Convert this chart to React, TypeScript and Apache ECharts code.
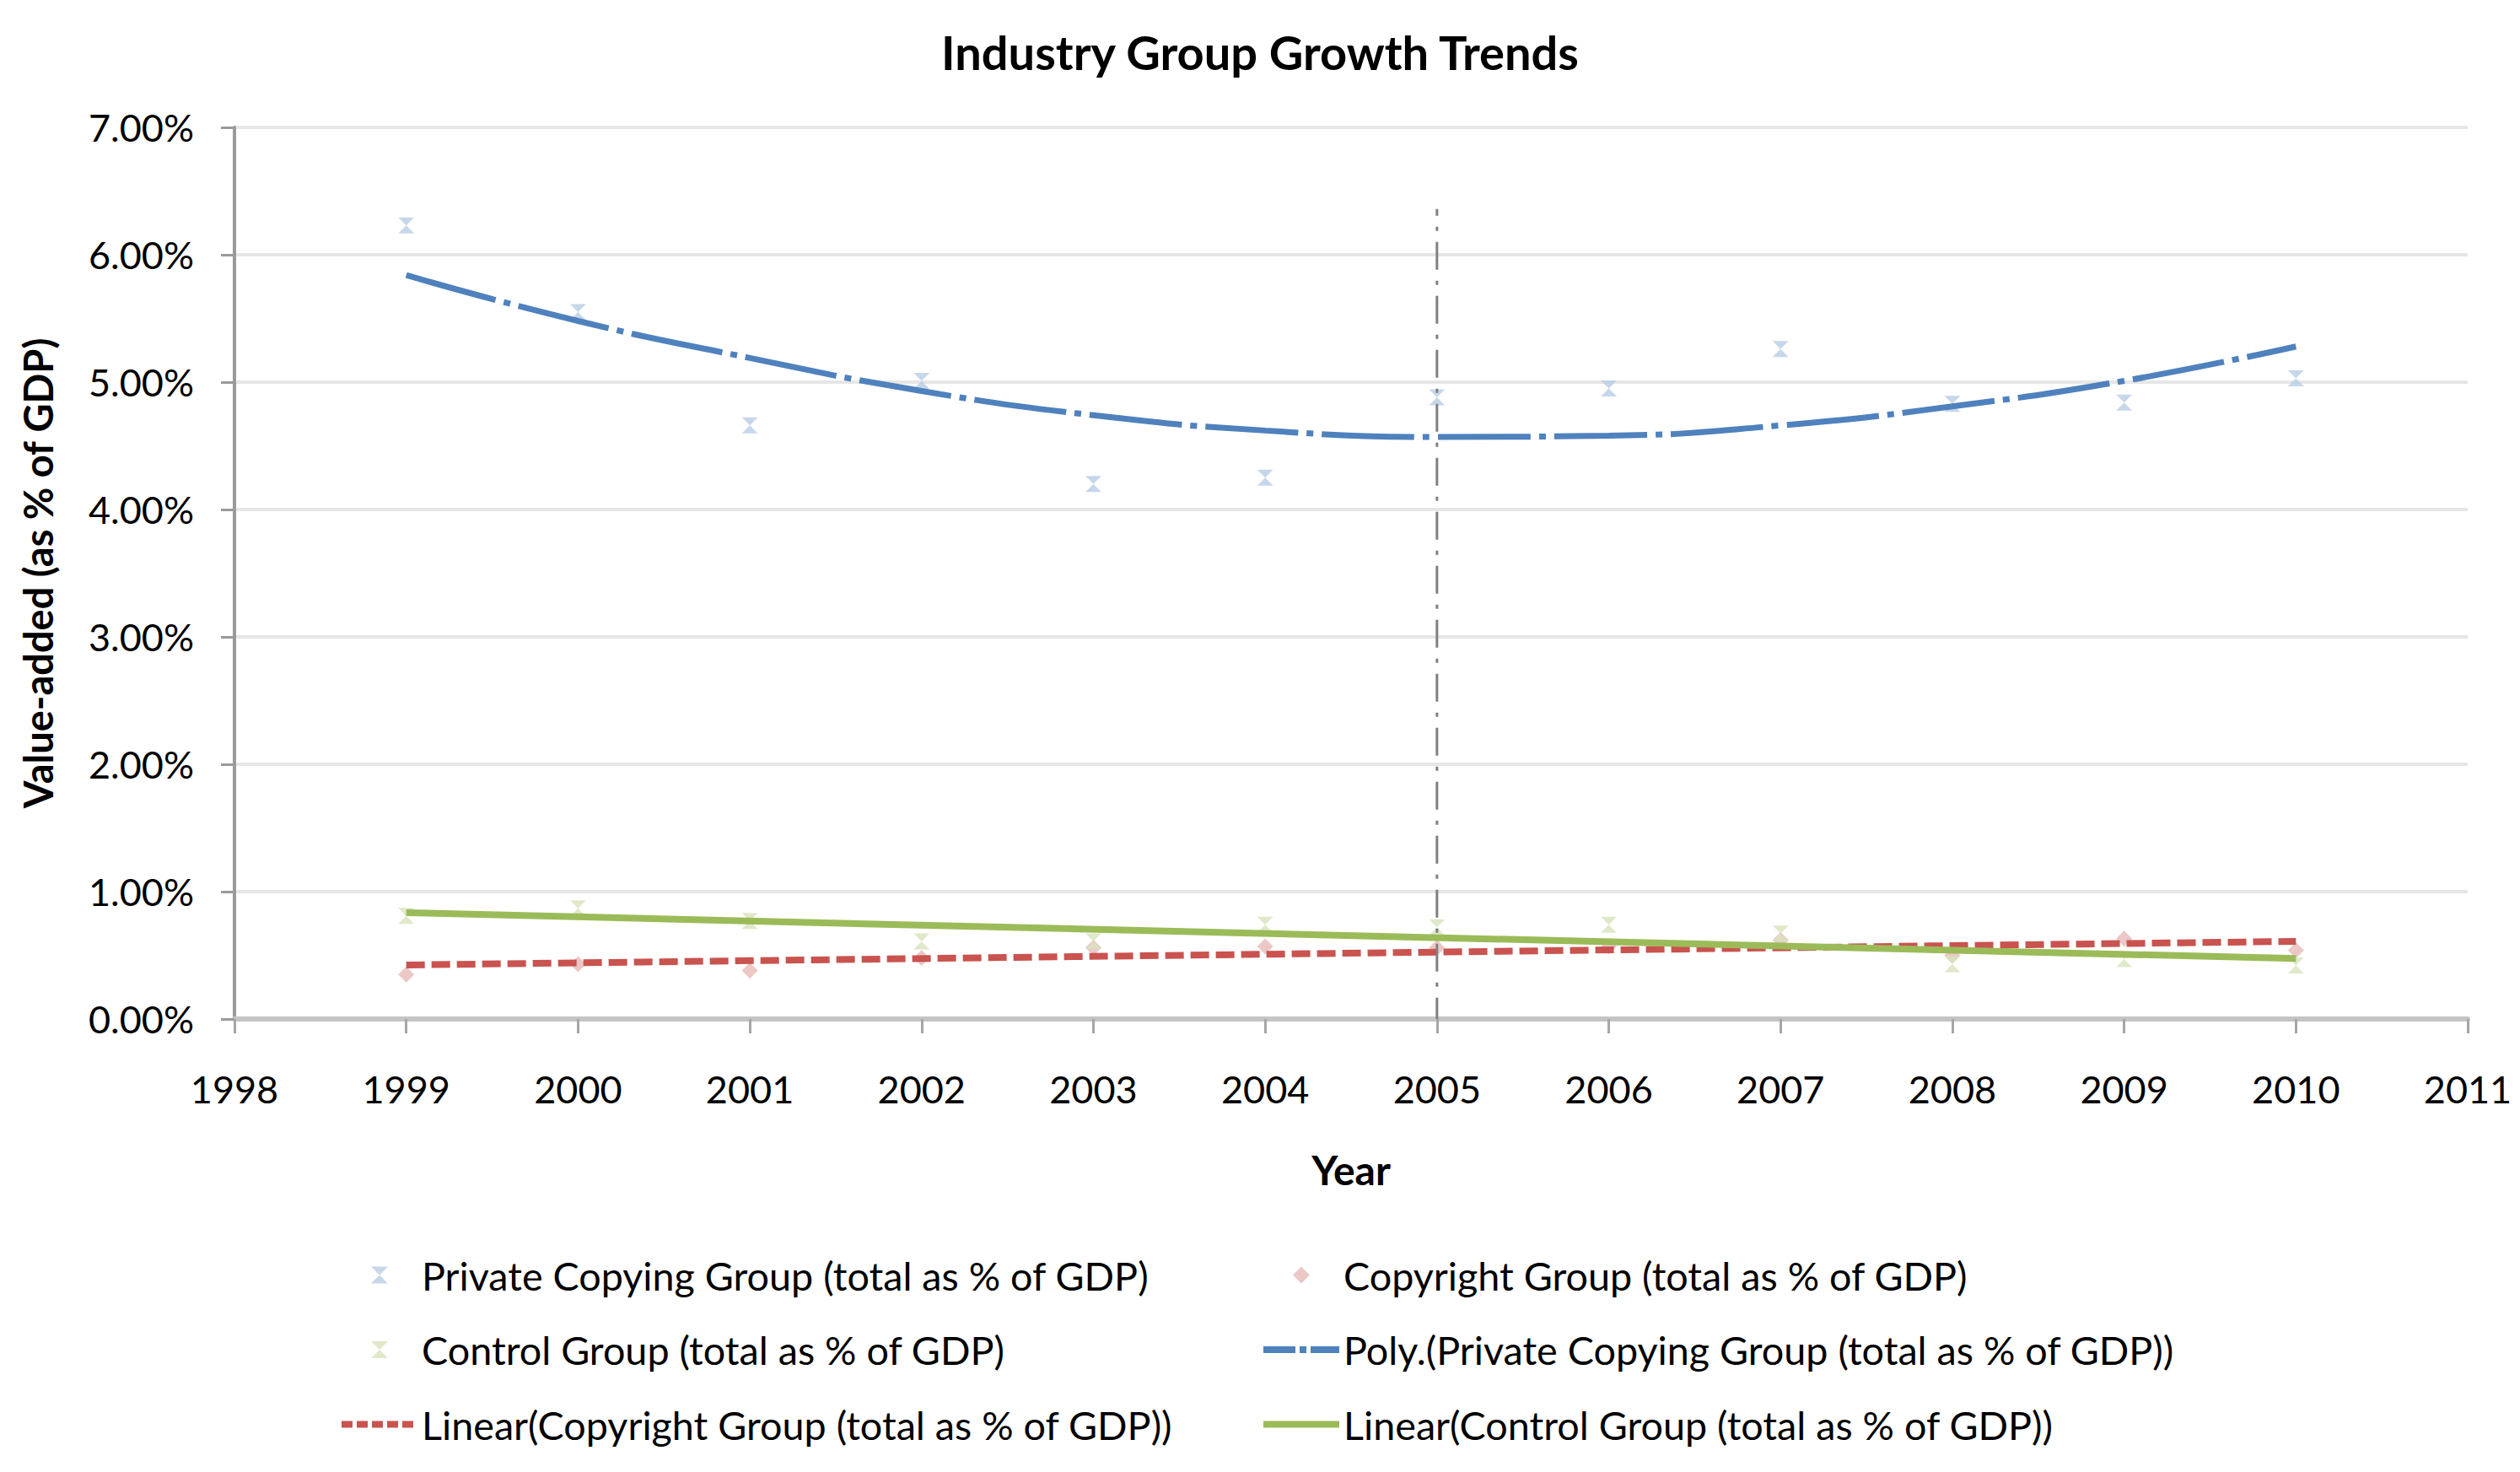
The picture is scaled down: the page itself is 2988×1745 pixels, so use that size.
import React, { useEffect, useRef } from "react";
import * as echarts from "echarts";

// ---- data (values in % of GDP) ----
const years = [1999, 2000, 2001, 2002, 2003, 2004, 2005, 2006, 2007, 2008, 2009, 2010];
const privateCopying = [6.23, 5.55, 4.66, 5.01, 4.2, 4.25, 4.88, 4.95, 5.26, 4.83, 4.84, 5.03];
const copyright = [0.35, 0.43, 0.38, 0.48, 0.56, 0.57, 0.56, 0.57, 0.62, 0.5, 0.63, 0.54];
const control = [0.81, 0.87, 0.77, 0.61, 0.61, 0.74, 0.72, 0.74, 0.67, 0.43, 0.47, 0.42];
// poly (order 2) trend of private copying, read at each year
const polyTrend = [5.84, 5.48, 5.19, 4.93, 4.74, 4.62, 4.57, 4.58, 4.66, 4.81, 5.01, 5.28];
// linear trends: endpoints
const trendYears = [1999, 2010];
const copyrightLinear = [0.424, 0.61];
const controlLinear = [0.835, 0.475];
// vertical marker line at 2005
const markerYears = [2005, 2005];
const markerValues = [6.36, 0];

const yTicks = [0, 1, 2, 3, 4, 5, 6, 7];

const N_PRIV = "Private Copying Group (total as % of GDP)";
const N_COPY = "Copyright Group (total as % of GDP)";
const N_CTRL = "Control Group (total as % of GDP)";
const N_POLY = "Poly.(Private Copying Group (total as % of GDP))";
const N_LCOPY = "Linear(Copyright Group (total as % of GDP))";
const N_LCTRL = "Linear(Control Group (total as % of GDP))";

const FONT = "Lato";
const HOURGLASS = "path://M0,0L10,0L5,5L10,10L0,10L5,5Z";
const DIAMOND = "path://M5,0L10,5L5,10L0,5Z";
const HIDDEN_SYMBOL = { color: "rgba(0,0,0,0)", borderWidth: 0, opacity: 0 };

const pair = (xs: number[], ys: number[]) => xs.map((x, i) => [x, ys[i]]);

export default function App() {
  const ref = useRef<HTMLDivElement>(null);
  useEffect(() => {
    const chart = echarts.init(ref.current!, null, { renderer: "svg" });
    const legendBase = {
      orient: "vertical",
      top: 1488,
      padding: 0,
      itemWidth: 90,
      itemHeight: 20,
      itemGap: 41.5,
      selectedMode: false,
      symbolKeepAspect: true,
      textStyle: { fontSize: 46.7, fontFamily: FONT, color: "#000" },
    };
    chart.setOption({
      animation: false,
      backgroundColor: "#ffffff",
      title: {
        text: "Industry Group Growth Trends",
        left: "center",
        top: 33,
        padding: 0,
        textStyle: { fontSize: 56, fontWeight: "bold", fontFamily: FONT, color: "#000" },
      },
      grid: { left: 278, right: 62, top: 151, bottom: 537, containLabel: false },
      legend: [
        {
          ...legendBase,
          left: 401,
          data: [
            { name: N_PRIV },
            { name: N_CTRL },
            { name: N_LCOPY, lineStyle: { width: 8, type: [13, 5] }, itemStyle: HIDDEN_SYMBOL },
          ],
        },
        {
          ...legendBase,
          left: 1494,
          data: [
            { name: N_COPY },
            { name: N_POLY, lineStyle: { width: 8, type: [38, 5, 8, 5] }, itemStyle: HIDDEN_SYMBOL },
            { name: N_LCTRL, lineStyle: { width: 8 }, itemStyle: HIDDEN_SYMBOL },
          ],
        },
      ],
      xAxis: {
        type: "value",
        min: 1998,
        max: 2011,
        interval: 1,
        name: "Year",
        nameLocation: "middle",
        nameGap: 154,
        nameTextStyle: { fontSize: 48, fontWeight: "bold", fontFamily: FONT, color: "#000" },
        splitLine: { show: false },
        axisLine: { show: true, lineStyle: { color: "#c4c4c4", width: 6 } },
        axisTick: { show: true, length: 17, lineStyle: { color: "#a6a6a6", width: 3 } },
        axisLabel: {
          fontSize: 45,
          fontFamily: FONT,
          color: "#000",
          margin: 60,
          formatter: (v: number) => String(v),
        },
      },
      yAxis: {
        type: "value",
        min: yTicks[0],
        max: yTicks[yTicks.length - 1],
        interval: 1,
        name: "Value-added (as % of GDP)",
        nameLocation: "middle",
        nameGap: 210,
        nameTextStyle: { fontSize: 47, fontWeight: "bold", fontFamily: FONT, color: "#000" },
        axisLine: { show: true, lineStyle: { color: "#9a9a9a", width: 4 } },
        axisTick: { show: true, length: 16, lineStyle: { color: "#9a9a9a", width: 3 } },
        splitLine: { show: true, lineStyle: { color: "#e6e6e6", width: 4 } },
        axisLabel: {
          fontSize: 45,
          fontFamily: FONT,
          color: "#000",
          margin: 48,
          formatter: (v: number) => v.toFixed(2) + "%",
        },
      },
      series: [
        {
          name: N_PRIV,
          type: "scatter",
          symbol: HOURGLASS,
          symbolSize: 19,
          itemStyle: { color: "#b9cde5" },
          data: pair(years, privateCopying),
          z: 2,
        },
        {
          name: N_COPY,
          type: "scatter",
          symbol: DIAMOND,
          symbolSize: 19,
          itemStyle: { color: "#e6b9b8" },
          data: pair(years, copyright),
          z: 2,
        },
        {
          name: N_CTRL,
          type: "scatter",
          symbol: HOURGLASS,
          symbolSize: 19,
          itemStyle: { color: "#d7e4bd" },
          data: pair(years, control),
          z: 2,
        },
        {
          name: N_POLY,
          type: "line",
          symbol: "none",
          smooth: true,
          lineStyle: { color: "#4f81bd", width: 7, type: [110, 10, 8, 10] },
          itemStyle: { color: "#4f81bd" },
          data: pair(years, polyTrend),
          z: 3,
        },
        {
          name: N_LCOPY,
          type: "line",
          symbol: "none",
          lineStyle: { color: "#c9534f", width: 8, type: [22, 8] },
          itemStyle: { color: "#c9534f" },
          data: pair(trendYears, copyrightLinear),
          z: 3,
        },
        {
          name: N_LCTRL,
          type: "line",
          symbol: "none",
          lineStyle: { color: "#9bbb59", width: 8 },
          itemStyle: { color: "#9bbb59" },
          data: pair(trendYears, controlLinear),
          z: 3,
        },
        {
          name: "2005 marker",
          type: "line",
          symbol: "none",
          silent: true,
          lineStyle: { color: "#808080", width: 3, type: [33, 13, 5, 13], dashOffset: 25 },
          data: pair(markerYears, markerValues),
          z: 4,
        },
      ],
    });
    return () => chart.dispose();
  }, []);
  return (
    <div
      ref={ref}
      style={{ position: "fixed", left: 0, top: 0, width: 2988, height: 1745, background: "#fff" }}
    />
  );
}
